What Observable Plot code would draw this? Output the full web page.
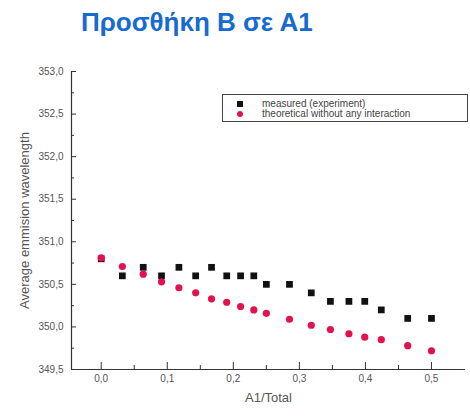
<!DOCTYPE html>
<html>
<head>
<meta charset="utf-8">
<script src="https://cdn.jsdelivr.net/npm/d3@7"></script>
<script src="https://cdn.jsdelivr.net/npm/@observablehq/plot@0.6"></script>
<style>
  body { margin: 0; background: #fff; font-family: "Liberation Sans", Arial, sans-serif; }
  #wrap { position: relative; width: 470px; height: 416px; overflow: hidden; }
  #title { position: absolute; left: 81px; top: 7px; font-size: 26px; font-weight: bold; color: #176bd0; white-space: nowrap; }
  #chart { position: absolute; left: 0; top: 50px; }
  #legend { position: absolute; left: 222px; top: 94px; width: 244px; height: 26px; border: 1px solid #444; background: #fff; font-size: 10px; color: #444; }
  .row { position: absolute; left: 0; height: 10px; line-height: 10px; white-space: nowrap; }
  .mk { position: absolute; left: 14px; top: 2px; width: 6px; height: 6px; }
  .tx { position: absolute; left: 39px; top: 0; }
</style>
</head>
<body>
<div id="wrap">
  <div id="title"></div>
  <div id="chart"></div>
  <div id="legend"></div>
</div>
<script>
const titleText = "Προσθήκη Β σε Α1";
const xLabel = "A1/Total";
const yLabel = "Average emmision wavelength";
const seriesNames = ["measured (experiment)", "theoretical without any interaction"];
const seriesColors = ["#111111", "#e3124e"];

const ratio = [0, 0.032, 0.0636, 0.0913, 0.1176, 0.143, 0.167, 0.19, 0.211, 0.231, 0.25, 0.285, 0.318, 0.347, 0.375, 0.399, 0.424, 0.464, 0.5];
const measured = [350.8, 350.6, 350.7, 350.6, 350.7, 350.6, 350.7, 350.6, 350.6, 350.6, 350.5, 350.5, 350.4, 350.3, 350.3, 350.3, 350.2, 350.1, 350.1];
const theoretical = [350.81, 350.71, 350.62, 350.53, 350.46, 350.40, 350.33, 350.29, 350.24, 350.20, 350.16, 350.09, 350.02, 349.97, 349.92, 349.88, 349.85, 349.78, 349.72];

const xDomain = [-0.045, 0.5515];
const yDomain = [349.5, 353.0];
const xMajor = [0, 0.1, 0.2, 0.3, 0.4, 0.5];
const xMinor = [0.05, 0.15, 0.25, 0.35, 0.45];
const yMajor = [349.5, 350.0, 350.5, 351.0, 351.5, 352.0, 352.5, 353.0];
const yMinor = [349.75, 350.25, 350.75, 351.25, 351.75, 352.25, 352.75];

document.getElementById("title").textContent = titleText;

const data = [];
ratio.forEach((r, i) => {
  data.push({x: r, y: measured[i], s: seriesNames[0]});
});
ratio.forEach((r, i) => {
  data.push({x: r, y: theoretical[i], s: seriesNames[1]});
});

const fmt = d => d.toFixed(1).replace(".", ",");
const axisColor = "#333";

const chart = Plot.plot({
  width: 470,
  height: 366,
  marginLeft: 71,
  marginRight: 5,
  marginTop: 21,
  marginBottom: 47,
  style: { fontFamily: "'Liberation Sans', Arial, sans-serif", fontSize: "10px", color: "#555", background: "transparent" },
  x: { domain: xDomain },
  y: { domain: yDomain },
  marks: [
    Plot.ruleY([yDomain[0]], {stroke: axisColor, strokeWidth: 1.2}),
    Plot.ruleX([xDomain[0]], {stroke: axisColor, strokeWidth: 1.2}),
    Plot.axisX({ticks: xMajor, tickSize: 0, tickPadding: 5, tickFormat: fmt, label: xLabel, labelAnchor: "center", labelOffset: 32, labelArrow: "none"}),
    Plot.axisX({ticks: xMajor, tickSize: -7, text: null, label: null, stroke: axisColor}),
    Plot.axisX({ticks: xMinor, tickSize: -4, text: null, label: null, stroke: axisColor}),
    Plot.axisY({ticks: yMajor, tickSize: 0, tickPadding: 8, tickFormat: fmt, label: yLabel, labelAnchor: "center", labelOffset: 52, labelArrow: "none"}),
    Plot.axisY({ticks: yMajor, tickSize: -5, text: null, label: null, stroke: axisColor}),
    Plot.axisY({ticks: yMinor, tickSize: -3, text: null, label: null, stroke: axisColor}),
    Plot.dot(data.filter(d => d.s === seriesNames[0]), {x: "x", y: "y", symbol: "square", r: 3.8, fill: seriesColors[0], stroke: "none"}),
    Plot.dot(data.filter(d => d.s === seriesNames[1]), {x: "x", y: "y", symbol: "circle", r: 3.6, fill: seriesColors[1], stroke: "none"})
  ]
});
document.getElementById("chart").appendChild(chart);

chart.querySelectorAll("[aria-label$='axis label'] text, [aria-label$='axis label']").forEach(n => { n.style.fontSize = "13px"; });

const legend = document.getElementById("legend");
seriesNames.forEach((name, i) => {
  const row = document.createElement("div");
  row.className = "row";
  row.style.top = (4 + i * 10) + "px";
  row.style.width = "100%";
  const mk = document.createElement("div");
  mk.className = "mk";
  mk.style.background = seriesColors[i];
  if (i === 1) mk.style.borderRadius = "50%";
  const tx = document.createElement("div");
  tx.className = "tx";
  tx.textContent = name;
  row.appendChild(mk);
  row.appendChild(tx);
  legend.appendChild(row);
});
</script>
</body>
</html>
